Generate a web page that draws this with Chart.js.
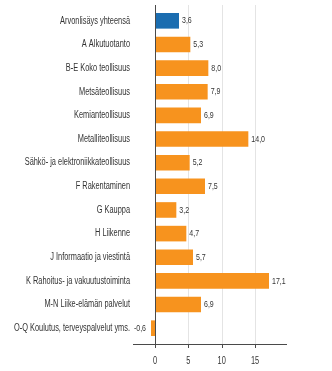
<!DOCTYPE html>
<html>
<head>
<meta charset="utf-8">
<script src="https://cdn.jsdelivr.net/npm/chart.js@4.4.0/dist/chart.umd.min.js"></script>
<style>
  html, body { margin: 0; padding: 0; background: #fff; }
  #wrap { width: 332px; height: 371px; }
</style>
</head>
<body>
<div id="wrap"><canvas id="myChart" width="332" height="371"></canvas></div>
<script>
var categories = [
    'Arvonlisäys yhteensä',
    'A Alkutuotanto',
    'B-E Koko teollisuus',
    'Metsäteollisuus',
    'Kemianteollisuus',
    'Metalliteollisuus',
    'Sähkö- ja elektroniikkateollisuus',
    'F Rakentaminen',
    'G Kauppa',
    'H Liikenne',
    'J Informaatio ja viestintä',
    'K Rahoitus- ja vakuutustoiminta',
    'M-N Liike-elämän palvelut',
    'O-Q Koulutus, terveyspalvelut yms.'
];
var values = [3.6, 5.3, 8.0, 7.9, 6.9, 14.0, 5.2, 7.5, 3.2, 4.7, 5.7, 17.1, 6.9, -0.6];
var xTicks = [0, 5, 10, 15];

var BLUE = '#1b6db0';
var ORANGE = '#f7931e';
var FONT = '"Liberation Sans", Arial, sans-serif';
var SX = 0.74; // horizontal squeeze, the source uses a narrow face

var barColors = values.map(function (v, i) { return i === 0 ? BLUE : ORANGE; });

function narrowText(c, txt, x, y, align) {
    c.save();
    c.translate(x, y);
    c.scale(SX, 1);
    c.textAlign = align;
    c.fillText(txt, 0, 0);
    c.restore();
}

// axis lines, grid, labels drawn by hand
var axisPlugin = {
    id: 'axisPlugin',
    beforeDatasetsDraw: function (chart) {
        var c = chart.ctx, a = chart.chartArea, x = chart.scales.x;
        var top = a.top - 4, bot = a.bottom + 4;
        c.save();
        c.lineWidth = 1;
        c.strokeStyle = '#e4e4e4';
        xTicks.forEach(function (t) {
            if (t === 0) return;
            var px = Math.round(x.getPixelForValue(t)) + 0.5;
            c.beginPath(); c.moveTo(px, top); c.lineTo(px, bot); c.stroke();
        });
        c.restore();
    },
    afterDatasetsDraw: function (chart) {
        var c = chart.ctx, a = chart.chartArea, x = chart.scales.x, y = chart.scales.y;
        var top = a.top - 4, bot = a.bottom + 4;
        c.save();
        c.strokeStyle = '#4a4a4a';
        c.lineWidth = 1;
        var zx = Math.round(x.getPixelForValue(0)) + 0.5;
        c.beginPath(); c.moveTo(zx, top); c.lineTo(zx, bot); c.stroke();
        c.beginPath(); c.moveTo(a.left, bot + 0.5); c.lineTo(a.right, bot + 0.5); c.stroke();
        xTicks.forEach(function (t) {
            var px = Math.round(x.getPixelForValue(t)) + 0.5;
            c.beginPath(); c.moveTo(px, bot); c.lineTo(px, bot + 4); c.stroke();
        });

        c.fillStyle = '#333';
        c.textBaseline = 'middle';

        // x tick labels
        c.font = '10px ' + FONT;
        xTicks.forEach(function (t) {
            narrowText(c, String(t), x.getPixelForValue(t), 361, 'center');
        });

        // category labels
        c.font = '10px ' + FONT;
        categories.forEach(function (lab, i) {
            narrowText(c, lab, 130, y.getPixelForValue(i), 'right');
        });

        // value labels
        c.font = '9.5px ' + FONT;
        var meta = chart.getDatasetMeta(0);
        meta.data.forEach(function (el, i) {
            var v = values[i];
            var txt = v.toFixed(1).replace('.', ',');
            if (v >= 0) {
                narrowText(c, txt, el.x + 3, el.y, 'left');
            } else {
                narrowText(c, txt, el.x - 5, el.y, 'right');
            }
        });
        c.restore();
    }
};

var ctx = document.getElementById('myChart').getContext('2d');
var myChart = new Chart(ctx, {
    type: 'bar',
    data: {
        labels: categories,
        datasets: [{
            data: values,
            backgroundColor: barColors,
            borderWidth: 0,
            barPercentage: 0.66,
            categoryPercentage: 1
        }]
    },
    options: {
        indexAxis: 'y',
        responsive: false,
        animation: false,
        devicePixelRatio: 1,
        layout: { padding: { top: 9, right: 45, left: 0, bottom: 0 } },
        plugins: {
            legend: { display: false },
            tooltip: { enabled: false }
        },
        scales: {
            x: {
                min: -3.3,
                max: 19.8,
                afterBuildTicks: function (scale) {
                    scale.ticks = xTicks.map(function (v) { return { value: v }; });
                },
                afterFit: function (scale) { scale.height = 31; },
                grid: { display: false },
                border: { display: false },
                ticks: { display: false }
            },
            y: {
                afterFit: function (scale) { scale.width = 133; },
                grid: { display: false },
                border: { display: false },
                ticks: { display: false }
            }
        }
    },
    plugins: [axisPlugin]
});
</script>
</body>
</html>
